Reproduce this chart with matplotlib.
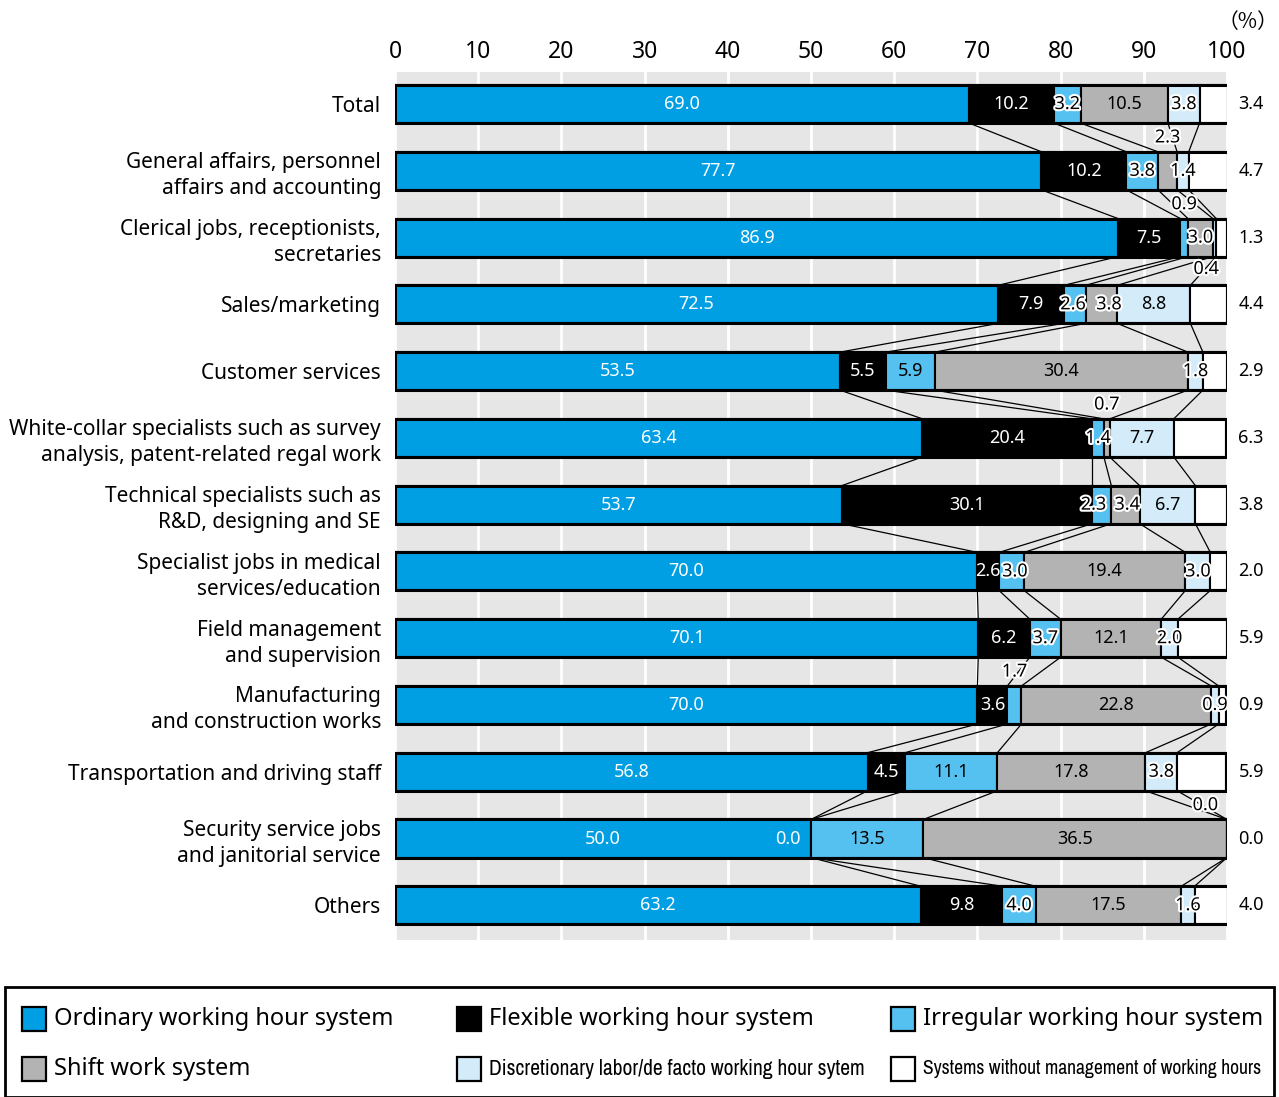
import matplotlib.pyplot as plt
import matplotlib.patheffects as pe
from matplotlib import font_manager
from matplotlib.patches import Rectangle
import numpy as np

plt.rcParams['font.family'] = ['Noto Sans', 'DejaVu Sans']

categories = [
    "Total",
    "General affairs, personnel\naffairs and accounting",
    "Clerical jobs, receptionists,\nsecretaries",
    "Sales/marketing",
    "Customer services",
    "White-collar specialists such as survey\nanalysis, patent-related regal work",
    "Technical specialists such as\nR&D, designing and SE",
    "Specialist jobs in medical\nservices/education",
    "Field management\nand supervision",
    "Manufacturing\nand construction works",
    "Transportation and driving staff",
    "Security service jobs\nand janitorial service",
    "Others",
]

ordinary = [69.0, 77.7, 86.9, 72.5, 53.5, 63.4, 53.7, 70.0, 70.1, 70.0, 56.8, 50.0, 63.2]
flexible = [10.2, 10.2, 7.5, 7.9, 5.5, 20.4, 30.1, 2.6, 6.2, 3.6, 4.5, 0.0, 9.8]
irregular = [3.2, 3.8, 0.9, 2.6, 5.9, 1.4, 2.3, 3.0, 3.7, 1.7, 11.1, 13.5, 4.0]
shift = [10.5, 2.3, 3.0, 3.8, 30.4, 0.7, 3.4, 19.4, 12.1, 22.8, 17.8, 36.5, 17.5]
discretionary = [3.8, 1.4, 0.4, 8.8, 1.8, 7.7, 6.7, 3.0, 2.0, 0.9, 3.8, 0.0, 1.6]
no_management = [3.4, 4.7, 1.3, 4.4, 2.9, 6.3, 3.8, 2.0, 5.9, 0.9, 5.9, 0.0, 4.0]

series_names = [
    "Ordinary working hour system",
    "Flexible working hour system",
    "Irregular working hour system",
    "Shift work system",
    "Discretionary labor/de facto working hour sytem",
    "Systems without management of working hours",
]
series_colors = ["#009FE3", "#000000", "#55C1F0", "#B3B3B3", "#D4ECFA", "#FFFFFF"]

# labels drawn outside the bar: (row, series) -> (position, x shift)
outside = {(1, 3): ("above", 0.0), (2, 2): ("above", 0.0), (2, 4): ("below", -1.0),
           (5, 3): ("above", 0.0), (9, 2): ("above", 0.0), (11, 4): ("above", -2.6)}
# small nudges for crowded inside labels
nudge = {(3, 3): 0.9, (3, 2): -0.2, (6, 2): -1.0, (6, 3): 0.2, (7, 2): 0.4}

data = np.array([ordinary, flexible, irregular, shift, discretionary, no_management]).T
n = len(categories)
y = np.arange(n)
bar_h = 0.57


def narrow_family():
    for f in font_manager.fontManager.ttflist:
        if "Narrow" in f.name or "Condensed" in f.name:
            return f.name, None
    prop = font_manager.FontProperties(family="DejaVu Sans", stretch="condensed")
    path = font_manager.findfont(prop, fallback_to_default=False)
    if "Condensed" in path:
        return "DejaVu Sans", "condensed"
    return None, None


fig = plt.figure(figsize=(12.79, 10.97), dpi=100)
ax = fig.add_axes([395 / 1279, 1 - 940 / 1097, 832 / 1279, 868 / 1097])
ax.set_facecolor("#E6E6E6")
for s in ax.spines.values():
    s.set_visible(False)

ax.set_xlim(0, 100)
ax.set_ylim(n - 1 + 0.52, -0.48)
ax.set_xticks(np.arange(0, 101, 10))
ax.xaxis.tick_top()
ax.tick_params(axis="x", length=0, labelsize=16.5, pad=6)
ax.set_yticks(y)
ax.set_yticklabels(categories, fontsize=15.0, linespacing=1.3)
ax.tick_params(axis="y", length=0, pad=10)
ax.grid(axis="x", color="white", linewidth=2)
ax.set_axisbelow(True)

halo = [pe.withStroke(linewidth=3, foreground="white")]

cum = np.hstack([np.zeros((n, 1)), np.cumsum(data, axis=1)])
for j in range(6):
    ax.barh(y, data[:, j], left=cum[:, j], height=bar_h, color=series_colors[j],
            edgecolor="black", linewidth=1.5, zorder=3)

# outer frame of each bar
for i in range(n):
    ax.add_patch(Rectangle((0, i - bar_h / 2), cum[i, -1], bar_h, fill=False,
                           edgecolor="black", linewidth=2.2, zorder=4))

# connecting lines between bars
for i in range(n - 1):
    for k in range(1, 6):
        ax.plot([cum[i, k], cum[i + 1, k]], [i + bar_h / 2, i + 1 - bar_h / 2],
                color="black", linewidth=0.9, zorder=2)

for i in range(n):
    for j in range(5):
        v = data[i, j]
        xc = cum[i, j] + v / 2 + nudge.get((i, j), 0.0)
        label = f"{v:.1f}"
        if (i, j) in outside:
            pos, dx = outside[(i, j)]
            yy = i - 0.5 if pos == "above" else i + 0.47
            ax.text(xc + dx, yy, label, ha="center", va="center", fontsize=13,
                    color="black", path_effects=halo, zorder=6)
            continue
        if i == 11 and j == 1:
            ax.text(cum[i, 1] - 1.3, i, label, ha="right", va="center",
                    fontsize=13, color="white", zorder=6)
            continue
        if j <= 1:
            ax.text(xc, i, label, ha="center", va="center", fontsize=13,
                    color="white", zorder=6)
        else:
            ax.text(xc, i, label, ha="center", va="center", fontsize=13,
                    color="black", path_effects=halo if v < 5 else None, zorder=6)
    ax.text(102.9, i, f"{data[i, 5]:.1f}", ha="center", va="center",
            fontsize=13, color="black", clip_on=False)

fig.text(1248 / 1279, 1 - 22 / 1097, "（%）", ha="center", va="center",
         fontsize=15, family=["Noto Sans CJK JP", "DejaVu Sans"])

# legend box
fig.patches.append(Rectangle((5 / 1279, 0), 1269 / 1279, 110 / 1097,
                             transform=fig.transFigure, fill=False,
                             edgecolor="black", linewidth=2))
col_x = [22, 457, 891]
row_y = [1019, 1069]
nfam, nstretch = narrow_family()
for idx, name in enumerate(series_names):
    r, c = divmod(idx, 3)
    px, py = col_x[c], row_y[r]
    fig.patches.append(Rectangle((px / 1279, 1 - (py + 12) / 1097), 24 / 1279, 24 / 1097,
                                 transform=fig.transFigure, facecolor=series_colors[idx],
                                 edgecolor="black", linewidth=1.6))
    kw = dict(fontsize=17)
    if idx >= 4:
        if nfam is not None:
            kw = dict(fontsize=15.5, family=[nfam, "DejaVu Sans"])
            if nstretch:
                kw["fontstretch"] = nstretch
        else:
            kw = dict(fontsize=12.3)
    t = fig.text((px + 32) / 1279, 1 - py / 1097, name, ha="left", va="center", **kw)
    if idx == 5:
        # keep the last legend entry inside the box
        fig.canvas.draw()
        bb = t.get_window_extent()
        if bb.x1 > 1262:
            t.set_fontsize(t.get_fontsize() * (1262 - bb.x0) / bb.width)

fig.savefig("out.png", dpi=100)
